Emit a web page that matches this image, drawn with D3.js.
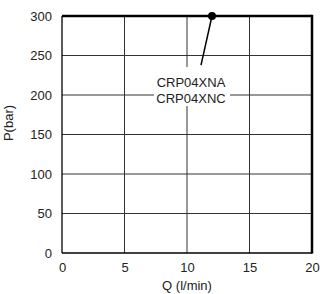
<!DOCTYPE html>
<html>
<head>
<meta charset="utf-8">
<script src="https://cdn.jsdelivr.net/npm/d3@7"></script>
<style>
  body { margin: 0; background: #fff; }
  text { font-family: "Liberation Sans", Arial, sans-serif; fill: #222; }
</style>
</head>
<body>
<div id="chart"></div>
<script>
// data
const xTicks = [0, 5, 10, 15, 20];
const yTicks = [0, 50, 100, 150, 200, 250, 300];
const lineQ = [0, 20];          // rated pressure line
const lineP = [300, 300];
const pointQ = [12];            // marked point
const pointP = [300];
const labelLines = ['CRP04XNA', 'CRP04XNC'];
const labelQ = 10;              // label anchor
const labelP = 224;

const width = 320, height = 294;
const margin = { top: 16, right: 8, bottom: 41, left: 62 };

const svg = d3.select('#chart').append('svg')
  .attr('width', width)
  .attr('height', height);

const xScale = d3.scaleLinear().domain([0, 20]).range([margin.left, width - margin.right]);
const yScale = d3.scaleLinear().domain([0, 300]).range([height - margin.bottom, margin.top]);

// grid
svg.append('g').selectAll('line.gx')
  .data(xTicks.slice(1, -1))
  .join('line')
  .attr('x1', d => xScale(d)).attr('x2', d => xScale(d))
  .attr('y1', yScale(0)).attr('y2', yScale(300))
  .attr('stroke', '#333').attr('stroke-width', 1);

svg.append('g').selectAll('line.gy')
  .data(yTicks.slice(1, -1))
  .join('line')
  .attr('x1', xScale(0)).attr('x2', xScale(20))
  .attr('y1', d => yScale(d)).attr('y2', d => yScale(d))
  .attr('stroke', '#333').attr('stroke-width', 1);

// frame
svg.append('line')
  .attr('x1', xScale(0)).attr('x2', xScale(0))
  .attr('y1', yScale(0)).attr('y2', yScale(300))
  .attr('stroke', '#000').attr('stroke-width', 1.3);
svg.append('line')
  .attr('x1', xScale(0)).attr('x2', xScale(20))
  .attr('y1', yScale(0)).attr('y2', yScale(0))
  .attr('stroke', '#000').attr('stroke-width', 1.3);
svg.append('line')
  .attr('x1', xScale(20)).attr('x2', xScale(20))
  .attr('y1', yScale(0) + 0.6).attr('y2', yScale(300) - 1.2)
  .attr('stroke', '#000').attr('stroke-width', 2.5);

// axes (labels only)
const xAxis = svg.append('g')
  .attr('transform', `translate(0, ${yScale(0)})`)
  .call(d3.axisBottom(xScale).tickValues(xTicks).tickSize(0).tickPadding(10));
const yAxis = svg.append('g')
  .attr('transform', `translate(${xScale(0)}, 0)`)
  .call(d3.axisLeft(yScale).tickValues(yTicks).tickSize(0).tickPadding(10));
[xAxis, yAxis].forEach(a => {
  a.select('.domain').remove();
  a.selectAll('text').attr('font-size', 13).attr('font-family', null).style('fill', '#222');
});

svg.append('text')
  .attr('x', xScale(10)).attr('y', 290)
  .attr('text-anchor', 'middle').attr('font-size', 13)
  .text('Q (l/min)');
svg.append('text')
  .attr('transform', `translate(13, 123) rotate(-90)`)
  .attr('text-anchor', 'middle').attr('font-size', 13)
  .text('P(bar)');

// label with white backing, cuts the grid
const lx = xScale(labelQ) + 4, ly = yScale(labelP);
svg.append('rect')
  .attr('x', lx - 37).attr('y', ly - 9)
  .attr('width', 76).attr('height', 39)
  .attr('fill', '#fff');
svg.append('g').selectAll('text.lbl')
  .data(labelLines)
  .join('text')
  .attr('x', lx).attr('y', (d, i) => ly + 11 + i * 15.5)
  .attr('text-anchor', 'middle').attr('font-size', 13)
  .text(d => d);

// leader line
svg.append('line')
  .attr('x1', xScale(pointQ[0])).attr('y1', yScale(pointP[0]))
  .attr('x2', xScale(pointQ[0]) - 11).attr('y2', ly - 11)
  .attr('stroke', '#000').attr('stroke-width', 1.5);

// rated line (thick top edge)
const line = d3.line().x(d => xScale(d[0])).y(d => yScale(d[1]));
svg.append('path')
  .datum(lineQ.map((q, i) => [q, lineP[i]]))
  .attr('d', line)
  .attr('fill', 'none').attr('stroke', '#000').attr('stroke-width', 2.5);

svg.selectAll('circle.pt')
  .data(pointQ.map((q, i) => [q, pointP[i]]))
  .join('circle')
  .attr('cx', d => xScale(d[0])).attr('cy', d => yScale(d[1]))
  .attr('r', 4).attr('fill', '#000');
</script>
</body>
</html>
